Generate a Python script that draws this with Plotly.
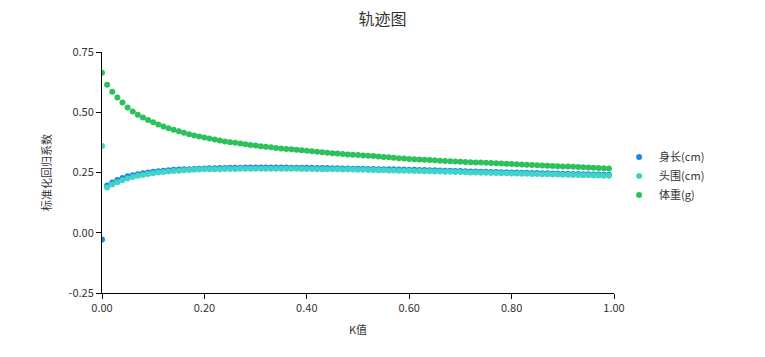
import plotly.graph_objects as go

k_values = [round(i * 0.01, 2) for i in range(100)]

shenchang = [
    -0.028, 0.196, 0.208, 0.219, 0.227, 0.234, 0.239, 0.243, 0.247, 0.250,
    0.253, 0.255, 0.257, 0.259, 0.261, 0.262, 0.263, 0.264, 0.265, 0.266,
    0.267, 0.268, 0.268, 0.269, 0.269, 0.270, 0.270, 0.270, 0.271, 0.271,
    0.271, 0.271, 0.271, 0.271, 0.271, 0.271, 0.271, 0.270, 0.270, 0.270,
    0.270, 0.270, 0.269, 0.269, 0.269, 0.268, 0.268, 0.267, 0.267, 0.266,
    0.266, 0.266, 0.265, 0.265, 0.264, 0.264, 0.263, 0.263, 0.262, 0.262,
    0.261, 0.261, 0.260, 0.260, 0.259, 0.259, 0.258, 0.257, 0.257, 0.256,
    0.256, 0.255, 0.254, 0.254, 0.253, 0.253, 0.252, 0.252, 0.251, 0.251,
    0.250, 0.250, 0.249, 0.249, 0.248, 0.248, 0.247, 0.247, 0.246, 0.246,
    0.245, 0.245, 0.244, 0.244, 0.243, 0.243, 0.242, 0.242, 0.241, 0.241,
]

touwei = [
    0.360, 0.188, 0.200, 0.210, 0.218, 0.225, 0.231, 0.236, 0.240, 0.244,
    0.247, 0.250, 0.252, 0.254, 0.256, 0.257, 0.259, 0.260, 0.261, 0.262,
    0.263, 0.263, 0.264, 0.264, 0.265, 0.265, 0.265, 0.266, 0.266, 0.266,
    0.266, 0.266, 0.266, 0.266, 0.266, 0.266, 0.266, 0.266, 0.266, 0.265,
    0.265, 0.265, 0.264, 0.264, 0.264, 0.263, 0.263, 0.262, 0.262, 0.262,
    0.261, 0.261, 0.260, 0.260, 0.259, 0.259, 0.258, 0.258, 0.257, 0.257,
    0.257, 0.256, 0.256, 0.255, 0.255, 0.254, 0.254, 0.253, 0.253, 0.252,
    0.252, 0.251, 0.250, 0.250, 0.249, 0.249, 0.248, 0.248, 0.247, 0.247,
    0.246, 0.246, 0.245, 0.245, 0.244, 0.244, 0.243, 0.243, 0.242, 0.242,
    0.241, 0.241, 0.240, 0.240, 0.239, 0.239, 0.238, 0.238, 0.237, 0.237,
]

tizhong = [
    0.664, 0.614, 0.585, 0.561, 0.540, 0.520, 0.503, 0.490, 0.478, 0.468,
    0.458, 0.449, 0.441, 0.434, 0.427, 0.421, 0.415, 0.409, 0.404, 0.399,
    0.395, 0.391, 0.387, 0.383, 0.379, 0.376, 0.373, 0.370, 0.367, 0.364,
    0.362, 0.359, 0.357, 0.355, 0.352, 0.350, 0.348, 0.346, 0.344, 0.342,
    0.340, 0.338, 0.336, 0.334, 0.332, 0.330, 0.329, 0.327, 0.325, 0.324,
    0.323, 0.321, 0.319, 0.318, 0.316, 0.314, 0.313, 0.311, 0.309, 0.308,
    0.306, 0.305, 0.304, 0.303, 0.302, 0.301, 0.299, 0.298, 0.297, 0.296,
    0.295, 0.294, 0.293, 0.292, 0.291, 0.290, 0.289, 0.288, 0.287, 0.286,
    0.285, 0.284, 0.283, 0.282, 0.281, 0.280, 0.279, 0.278, 0.277, 0.276,
    0.275, 0.275, 0.274, 0.273, 0.272, 0.271, 0.270, 0.269, 0.268, 0.267,
]

series_names = ["身长(cm)", "头围(cm)", "体重(g)"]
series_values = [shenchang, touwei, tizhong]
colors = ["#1a88e6", "#40d4c8", "#2cc25a"]

x_ticks = [0, 0.2, 0.4, 0.6, 0.8, 1.0]
x_ticklabels = ["0.00", "0.20", "0.40", "0.60", "0.80", "1.00"]
y_ticks = [-0.25, 0, 0.25, 0.5, 0.75]
y_ticklabels = ["-0.25", "0.00", "0.25", "0.50", "0.75"]

font_family = "Noto Sans CJK SC, Noto Sans, sans-serif"

fig = go.Figure()
for name, vals, col in zip(series_names, series_values, colors):
    fig.add_trace(go.Scatter(
        x=k_values, y=vals, mode="markers", name=name,
        marker=dict(color=col, size=6, line=dict(width=0)),
    ))

fig.update_layout(
    width=765, height=357,
    margin=dict(l=102, r=151, t=52, b=64),
    paper_bgcolor="white", plot_bgcolor="white",
    font=dict(family=font_family, size=11, color="#333333"),
    title=dict(text="轨迹图", x=0.5, xanchor="center", y=0.945, yanchor="middle",
               font=dict(size=16, color="#333333", family=font_family)),
    showlegend=True,
    legend=dict(x=1.01, xanchor="left", y=0.485, yanchor="middle",
                font=dict(size=11, color="#333333"),
                tracegroupgap=0, itemwidth=30),
    xaxis=dict(range=[0, 1], tickvals=x_ticks, ticktext=x_ticklabels,
               showgrid=False, zeroline=False, showline=True, linecolor="#000000",
               linewidth=1, ticks="outside", ticklen=5, tickcolor="#000000",
               title=dict(text="K值", font=dict(size=11, color="#333333"), standoff=12)),
    yaxis=dict(range=[-0.25, 0.75], tickvals=y_ticks, ticktext=y_ticklabels,
               showgrid=False, zeroline=False, showline=True, linecolor="#000000",
               linewidth=1, ticks="outside", ticklen=5, tickcolor="#000000",
               title=dict(text="标准化回归系数", font=dict(size=11, color="#333333"), standoff=14)),
)

fig.write_html("out.html")
